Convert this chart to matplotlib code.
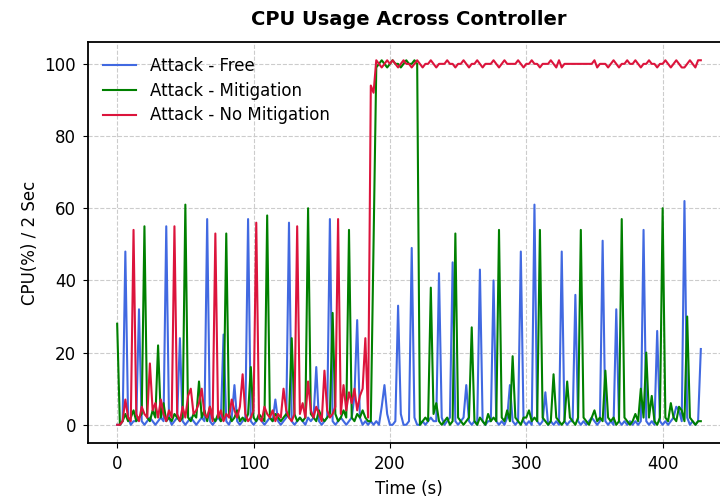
import numpy as np
import matplotlib
matplotlib.use("Agg")
import matplotlib.pyplot as plt

# sampled every 2 s, 0..428
time_s = np.arange(0, 430, 2)

free = [
    0, 0, 1, 48, 2, 0, 1, 1, 32, 1,
    0, 1, 2, 1, 0, 1, 2, 1, 55, 2,
    0, 1, 2, 24, 1, 0, 1, 2, 1, 0,
    1, 2, 1, 57, 1, 0, 1, 2, 1, 25,
    1, 0, 2, 11, 1, 0, 1, 2, 57, 1,
    0, 1, 2, 1, 0, 1, 2, 1, 7, 1,
    0, 1, 2, 56, 1, 0, 1, 2, 1, 0,
    2, 1, 2, 16, 1, 0, 1, 2, 57, 1,
    0, 1, 2, 1, 0, 1, 2, 8, 29, 2,
    0, 1, 0, 1, 0, 1, 0, 5, 11, 3,
    0, 0, 1, 33, 3, 0, 0, 1, 49, 2,
    0, 0, 1, 0, 1, 2, 1, 1, 42, 2,
    0, 1, 2, 45, 1, 0, 1, 2, 11, 1,
    0, 1, 0, 43, 1, 0, 1, 1, 40, 1,
    0, 1, 0, 2, 11, 1, 0, 1, 48, 1,
    0, 1, 0, 61, 1, 0, 1, 9, 0, 1,
    0, 1, 0, 48, 1, 0, 1, 1, 36, 1,
    0, 1, 0, 1, 2, 1, 0, 1, 51, 1,
    0, 1, 0, 32, 1, 0, 1, 0, 1, 0,
    1, 0, 1, 54, 1, 0, 1, 0, 26, 1,
    0, 1, 0, 1, 2, 5, 4, 1, 62, 2,
    0, 1, 0, 1, 21,
]

mitigation = [
    28, 0, 1, 3, 1, 2, 4, 1, 2, 3,
    55, 2, 1, 4, 2, 22, 2, 6, 1, 2,
    1, 3, 2, 1, 2, 61, 2, 1, 3, 2,
    12, 2, 4, 1, 5, 2, 1, 3, 1, 2,
    53, 3, 1, 2, 4, 1, 2, 1, 3, 16,
    2, 1, 3, 2, 1, 58, 2, 1, 3, 2,
    1, 2, 3, 2, 24, 3, 1, 2, 1, 2,
    60, 3, 2, 1, 4, 2, 1, 2, 3, 31,
    3, 1, 2, 4, 2, 54, 2, 1, 3, 2,
    4, 2, 1, 1, 50, 99, 100, 101, 100, 99,
    100, 101, 100, 100, 99, 100, 101, 100, 100, 101,
    100, 0, 1, 2, 1, 38, 3, 6, 1, 0,
    1, 2, 0, 1, 53, 2, 1, 0, 1, 2,
    27, 1, 0, 2, 1, 0, 3, 1, 2, 1,
    54, 2, 1, 4, 1, 19, 2, 1, 0, 2,
    2, 4, 1, 2, 1, 54, 2, 1, 0, 1,
    14, 2, 1, 0, 1, 12, 2, 1, 0, 2,
    54, 2, 1, 0, 2, 4, 1, 2, 1, 15,
    2, 1, 2, 0, 1, 57, 2, 1, 0, 1,
    3, 1, 10, 2, 20, 2, 8, 1, 0, 2,
    60, 2, 1, 6, 2, 1, 5, 4, 1, 30,
    2, 1, 0, 1, 1,
]

no_mitigation = [
    0, 0, 1, 7, 2, 1, 54, 3, 1, 5,
    3, 2, 17, 4, 6, 2, 7, 3, 1, 4,
    2, 55, 3, 1, 5, 2, 8, 10, 3, 4,
    6, 10, 3, 2, 5, 1, 53, 2, 4, 1,
    3, 2, 7, 4, 2, 5, 14, 3, 1, 2,
    4, 56, 2, 1, 5, 3, 2, 4, 1, 3,
    2, 10, 4, 2, 1, 3, 55, 3, 6, 2,
    12, 4, 2, 5, 3, 1, 15, 4, 2, 3,
    5, 57, 3, 11, 4, 9, 6, 10, 4, 8,
    10, 24, 2, 94, 92, 101, 100, 99, 100, 101,
    100, 101, 100, 99, 100, 101, 100, 100, 99, 100,
    101, 100, 99, 100, 100, 101, 100, 99, 100, 100,
    100, 101, 100, 100, 99, 100, 100, 101, 100, 99,
    100, 100, 101, 100, 99, 100, 100, 100, 101, 100,
    99, 100, 101, 100, 100, 100, 100, 101, 100, 99,
    100, 100, 101, 100, 100, 99, 100, 100, 100, 101,
    100, 99, 101, 99, 100, 100, 100, 100, 100, 100,
    100, 100, 100, 100, 100, 101, 99, 100, 100, 100,
    99, 100, 101, 100, 99, 100, 100, 101, 100, 100,
    101, 100, 99, 100, 100, 101, 100, 100, 99, 100,
    100, 101, 100, 99, 100, 101, 100, 99, 99, 100,
    101, 100, 99, 101, 101,
]

fig = plt.figure(figsize=(7.2, 4.98), dpi=100)
ax = fig.add_axes([0.1222, 0.1104, 0.8917, 0.8052])

ax.plot(time_s, free, color='royalblue', linewidth=1.5, label='Attack - Free')
ax.plot(time_s, mitigation, color='green', linewidth=1.5, label='Attack - Mitigation')
ax.plot(time_s, no_mitigation, color='crimson', linewidth=1.5, label='Attack - No Mitigation')

ax.set_xticks([0, 100, 200, 300, 400])
ax.set_yticks([0, 20, 40, 60, 80, 100])
ax.tick_params(labelsize=12, pad=5)
ax.grid(True, linestyle='--', color='#cccccc', linewidth=0.8)
for s in ax.spines.values():
    s.set_linewidth(1.3)

ax.set_title('CPU Usage Across Controller', fontsize=14, fontweight='bold', pad=12)
ax.set_xlabel('Time (s)', fontsize=12, labelpad=5)
ax.set_ylabel('CPU(%) / 2 Sec', fontsize=12)
ax.legend(loc='upper left', frameon=False, fontsize=12, labelspacing=0.4)

fig.savefig('out.png', dpi=100)
